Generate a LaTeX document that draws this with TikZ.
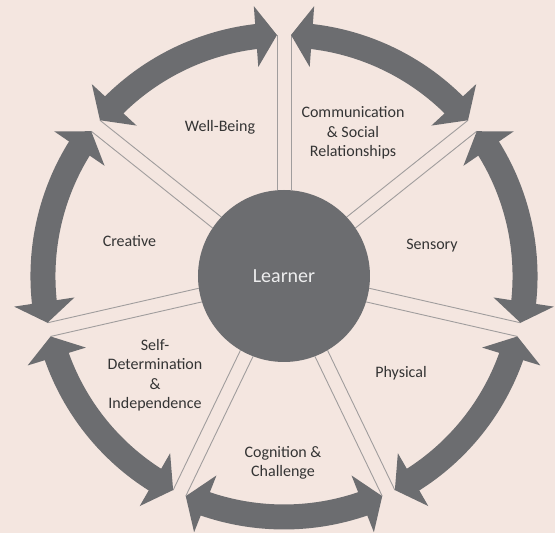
\documentclass[tikz,border=0pt]{standalone}
\usepackage{fontspec}
\setmainfont{Carlito}
\usetikzlibrary{arrows.meta, bending, calc}
\definecolor{bgpink}{RGB}{244,230,224}
\definecolor{darkgrey}{RGB}{108,109,112}
\definecolor{linegrey}{RGB}{160,157,157}
\definecolor{textgrey}{RGB}{52,52,52}

\begin{document}
\begin{tikzpicture}[x=1pt, y=1pt]
\tikzstyle{hub}=[circle, minimum size=172pt, inner sep=0pt, fill=darkgrey, text=white!88!darkgrey, font=\fontsize{20}{24}\selectfont]
\tikzstyle{sector}=[align=center, text=textgrey, font=\fontsize{16}{19.5}\selectfont]
\tikzstyle{divider}=[linegrey, line width=0.9pt]
\tikzstyle{ringarrow}=[darkgrey, line width=25pt, {Triangle[length=21pt, width=60pt]}-{Triangle[length=21pt, width=60pt]}]
    \useasboundingbox (-284,-257) rectangle (271,276);
    \fill[bgpink] (-284,-257) rectangle (271,276);
    \node[hub] (learner) at (0,0) {Learner};
    % dividers between the areas
    \foreach \k in {0,...,6} {
        \pgfmathsetmacro{\ang}{90-\k*360/7}
        \coordinate (a\k) at ($(\ang:241)+(\ang+90:7)$);
        \coordinate (b\k) at ($(\ang:241)+(\ang-90:7)$);
        \draw[divider] ($(\ang:85.7)+(\ang+90:7)$) -- (a\k);
        \draw[divider] ($(\ang:85.7)+(\ang-90:7)$) -- (b\k);
    }
    % arrows round the outside
    \foreach \k in {0,...,6} {
        \pgfmathtruncatemacro{\n}{mod(\k+1,7)}
        \draw[ringarrow] (b\k) to[bend left=24, looseness=0.89] (a\n);
    }
    \node[sector] (wellbeing) at (-64,149) {Well-Being};
    \node[sector] (comm) at (69,143) {Communication\\\& Social\\Relationships};
    \node[sector] (sensory) at (148,30) {Sensory};
    \node[sector] (physical) at (117,-97) {Physical};
    \node[sector] (cognition) at (-1,-187) {Cognition \&\\Challenge};
    \node[sector] (selfdet) at (-129,-99) {Self-\\Determination\\\&\\Independence};
    \node[sector] (creative) at (-154.5,35) {Creative};
\end{tikzpicture}
\end{document}
